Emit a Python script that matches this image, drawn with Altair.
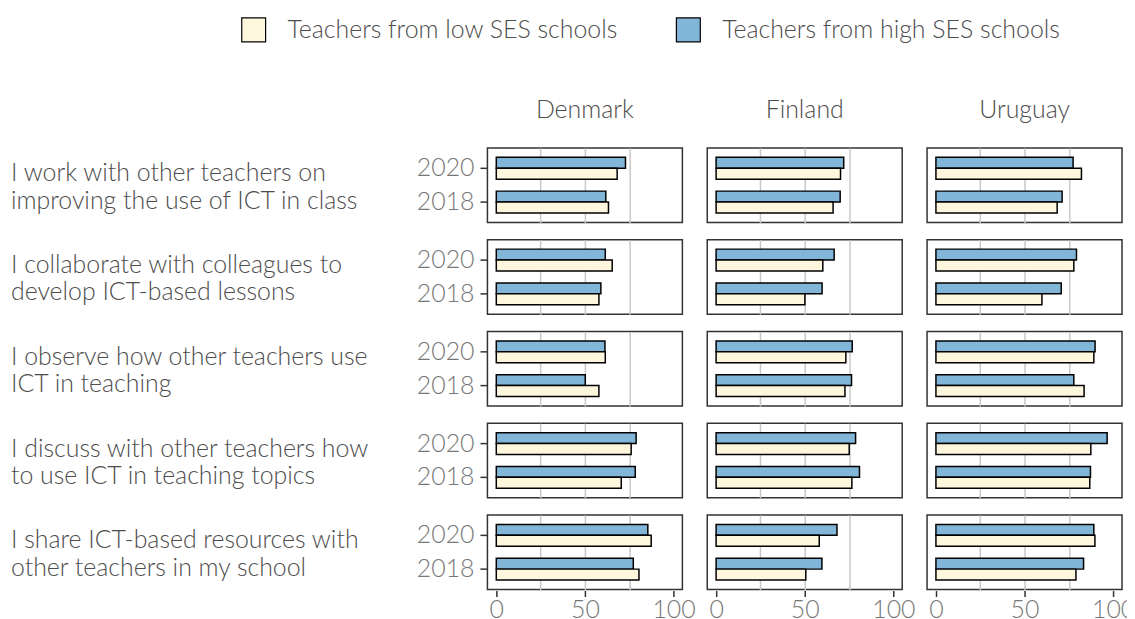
import altair as alt
import pandas as pd

statements = [
    "I work with other teachers on|improving the use of ICT in class",
    "I collaborate with colleagues to|develop ICT-based lessons",
    "I observe how other teachers use|ICT in teaching",
    "I discuss with other teachers how|to use ICT in teaching topics",
    "I share ICT-based resources with|other teachers in my school",
]
countries = ["Denmark", "Finland", "Uruguay"]
years = ["2020", "2018"]
groups = ["Teachers from low SES schools", "Teachers from high SES schools"]

# values per statement: [2020 high, 2020 low, 2018 high, 2018 low]
denmark = [
    [72.9, 68.2, 61.8, 63.3],
    [61.5, 65.4, 59.0, 57.9],
    [61.3, 61.5, 50.2, 57.9],
    [78.9, 76.1, 78.4, 70.5],
    [85.5, 87.4, 77.3, 80.5],
]
finland = [
    [72.0, 70.2, 70.0, 66.0],
    [66.6, 60.2, 59.8, 50.1],
    [76.8, 73.2, 76.4, 72.7],
    [78.7, 75.1, 80.9, 76.6],
    [68.2, 58.2, 59.7, 50.6],
]
uruguay = [
    [77.4, 82.1, 71.2, 68.4],
    [79.3, 77.8, 70.7, 59.8],
    [89.8, 89.1, 77.8, 83.6],
    [96.6, 87.4, 87.2, 86.8],
    [89.1, 89.7, 83.3, 79.0],
]

rows = []
for cname, table in zip(countries, [denmark, finland, uruguay]):
    for s, vals in zip(statements, table):
        combos = [("2020", groups[1]), ("2020", groups[0]), ("2018", groups[1]), ("2018", groups[0])]
        for (yr, g), v in zip(combos, vals):
            rows.append({"statement": s, "country": cname, "year": yr, "group": g, "value": v})
df = pd.DataFrame(rows)

FONT = "Lato"
TXT = "#4d4d4d"
FS = 25

base = alt.Chart(df)

y_enc = alt.Y("year:N", sort=years,
              scale=alt.Scale(paddingInner=0.35, paddingOuter=0.28),
              axis=None)

bars = base.mark_bar(stroke="black", strokeWidth=1.5).encode(
    x=alt.X("value:Q",
            scale=alt.Scale(domain=[-5, 105], nice=False, zero=False),
            axis=alt.Axis(title=None, values=[0, 25, 50, 75, 100],
                          labelExpr="datum.value % 50 == 0 ? datum.label : ''",
                          grid=True,
                          gridColor="#c8c8c8", gridWidth=1.5,
                          gridOpacity={"condition": {"test": "datum.value % 50 == 0 && datum.value != 50", "value": 0}, "value": 1},
                          tickOpacity={"condition": {"test": "datum.value % 50 != 0", "value": 0}, "value": 1},
                          tickSize=6, tickWidth=1.5, tickColor="#333333",
                          domain=False,
                          labelFontSize=FS, labelColor="#777777", labelFont=FONT,
                          labelFontWeight=300, labelPadding=1, labelFlush=False)),
    y=y_enc,
    yOffset=alt.YOffset("group:N", sort=[groups[1], groups[0]]),
    fill=alt.Fill("group:N",
                  scale=alt.Scale(domain=groups, range=["#FFF6DE", "#82B6D8"]),
                  legend=alt.Legend(title=None, orient="none", direction="horizontal",
                                    legendX=-248, legendY=-132,
                                    symbolType="square", symbolSize=576,
                                    symbolStrokeColor="black", symbolStrokeWidth=1.2,
                                    labelFontSize=FS, labelFont=FONT, labelFontWeight=300,
                                    labelColor=TXT, columnPadding=55, labelOffset=21,
                                    labelLimit=500)),
)

first_col = base.transform_filter(
    "datum.country == 'Denmark' && datum.group == 'Teachers from high SES schools'"
)

year_labels = first_col.mark_text(align="right", baseline="middle", font=FONT,
                                  fontSize=FS, fontWeight=300, color="#777777").encode(
    x=alt.value(-13),
    y=y_enc,
    text="year:N",
)

year_ticks = first_col.mark_rule(color="#333333", strokeWidth=1.5).encode(
    x=alt.value(-7),
    x2=alt.value(-0.5),
    y=y_enc,
)

labels = first_col.transform_filter("datum.year == '2020'").mark_text(
    align="left", baseline="middle", lineBreak="|", lineHeight=27.5,
    font=FONT, fontSize=FS, fontWeight=300, color=TXT).encode(
    x=alt.value(-479),
    y=alt.value(25.5),
    text="statement:N",
)

chart = alt.layer(bars, year_ticks, year_labels, labels).properties(width=196, height=75).facet(
    row=alt.Row("statement:N", sort=statements,
                header=alt.Header(title=None, labels=False)),
    column=alt.Column("country:N", sort=countries,
                      header=alt.Header(title=None, labelFontSize=FS, labelFont=FONT,
                                        labelFontWeight=300, labelColor=TXT,
                                        labelPadding=24)),
    spacing={"row": 15.25, "column": 23},
).configure(
    font=FONT, padding={"left": 2, "top": 7, "right": -8, "bottom": 5}
).configure_view(stroke="#333333", strokeWidth=1.5)

chart.save("out.html", embed_options={"renderer": "svg", "actions": False})
